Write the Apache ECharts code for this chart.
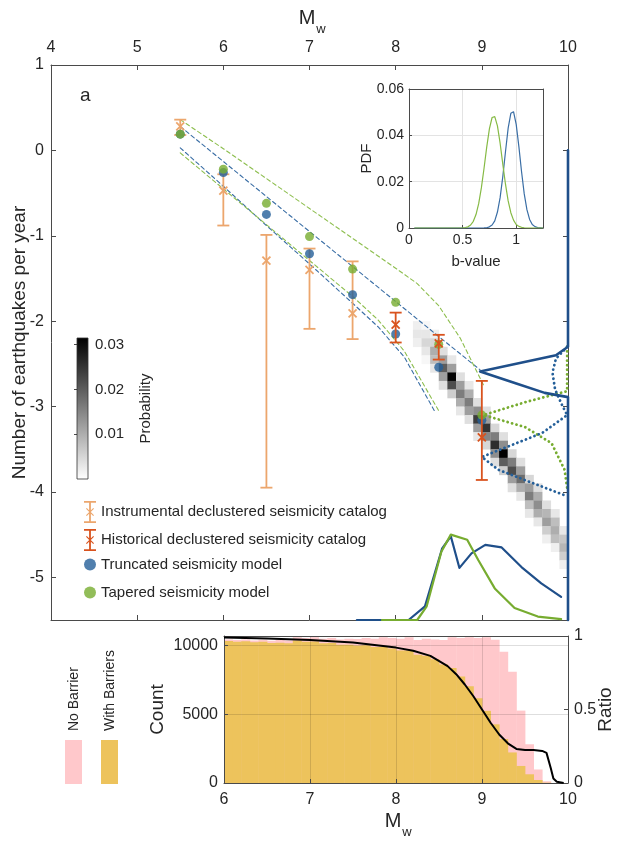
<!DOCTYPE html>
<html><head><meta charset="utf-8">
<script src="https://cdn.jsdelivr.net/npm/echarts@6/dist/echarts.min.js"></script>
<style>html,body{margin:0;padding:0;background:#fff}#c{width:617px;height:844px}</style>
</head><body><div id="c"></div>
<script>
// ---------- Panel a data ----------
const yTicks = [-5, -4, -3, -2, -1, 0, 1];
const instrMw   = [5.5, 6.0, 6.5, 7.0, 7.5];
const instrRate = [0.28, -0.47, -1.29, -1.40, -1.91];
const instrHigh = [0.36, -0.28, -0.99, -1.15, -1.30];
const instrLow  = [0.18, -0.88, -3.95, -2.09, -2.21];
const histMw   = [8.0, 8.5, 9.0];
const histRate = [-2.04, -2.26, -3.36];
const histHigh = [-1.90, -2.16, -2.70];
const histLow  = [-2.25, -2.45, -3.86];
const modelMw   = [5.5, 6.0, 6.5, 7.0, 7.5, 8.0, 8.5, 9.0];
const truncRate = [0.19, -0.26, -0.75, -1.21, -1.69, -2.15, -2.54, -3.16];
const taperRate = [0.19, -0.22, -0.62, -1.01, -1.39, -1.78, -2.27, -3.10];
const truncUpper = [[5.5,0.28],[6.0,-0.13],[6.5,-0.54],[7.0,-0.95],[7.5,-1.36],[8.0,-1.77],[8.5,-2.18],[8.98,-2.57]];
const truncLower = [[5.5,0.03],[6.0,-0.42],[6.5,-0.88],[7.0,-1.33],[7.5,-1.79],[7.8,-2.07],[8.1,-2.42],[8.45,-3.05]];
const taperUpper = [[5.5,0.36],[6.0,0.02],[6.5,-0.33],[7.0,-0.68],[7.5,-1.03],[8.0,-1.38],[8.25,-1.56],[8.5,-1.82],[8.75,-2.2],[9.03,-2.77]];
const taperLower = [[5.5,-0.03],[6.0,-0.45],[6.5,-0.87],[7.0,-1.29],[7.5,-1.71],[7.8,-1.99],[8.1,-2.35],[8.5,-3.05]];
// sideways PDFs at right edge
const truncRatePdf = [[10,0],[10,-2.3],[9.86,-2.4],[8.98,-2.59],[9.4,-2.73],[9.73,-2.84],[10,-2.89],[10,-5.5]];
const truncRatePdf2 = [[9.99,-2.3],[9.86,-2.44],[9.82,-2.6],[9.85,-2.8],[9.93,-2.98],[9.99,-3.1],[9.7,-3.31],[9.0,-3.59],[9.19,-3.74],[9.6,-3.9],[9.99,-4.05]];
const taperRatePdf = [[9.99,-2.3],[9.99,-2.82],[9.5,-2.95],[9.02,-3.1],[9.5,-3.24],[9.81,-3.43],[9.96,-3.74],[9.99,-3.95]];
// PDFs of max magnitude along the bottom
const truncMmaxPdf = [[7.55,-5.5],[8.15,-5.5],[8.34,-5.34],[8.54,-4.66],[8.64,-4.52],[8.74,-4.89],[8.88,-4.72],[9.04,-4.62],[9.23,-4.65],[9.46,-4.88],[9.69,-5.07],[9.92,-5.23]];
const taperMmaxPdf = [[7.84,-5.5],[8.25,-5.5],[8.36,-5.34],[8.53,-4.7],[8.64,-4.5],[8.83,-4.56],[8.96,-4.8],[9.15,-5.13],[9.38,-5.36],[9.65,-5.46],[9.92,-5.49]];
// probability heat cells: column Mw (bin start), top value of first cell, probabilities downward
const heatBin = 0.1;
const heatColMw  = [8.2, 8.3, 8.4, 8.5, 8.6, 8.7, 8.8, 8.9, 9.0, 9.1, 9.2, 9.3, 9.4, 9.5, 9.6, 9.7, 9.8, 9.9];
const heatColTop = [-2.0, -2.0, -2.1, -2.3, -2.4, -2.6, -2.7, -2.9, -3.0, -3.2, -3.3, -3.5, -3.6, -3.8, -3.9, -4.1, -4.2, -4.4];
const heatColProb = [
  [0.002, 0.003, 0.002],
  [0.001, 0.003, 0.005, 0.003, 0.001],
  [0.002, 0.005, 0.010, 0.008, 0.003],
  [0.004, 0.012, 0.020, 0.012, 0.004],
  [0.003, 0.012, 0.031, 0.022, 0.006],
  [0.004, 0.012, 0.016, 0.010, 0.003],
  [0.003, 0.010, 0.016, 0.012, 0.004],
  [0.004, 0.014, 0.024, 0.012, 0.003],
  [0.004, 0.012, 0.025, 0.015, 0.005],
  [0.005, 0.016, 0.026, 0.014, 0.004],
  [0.004, 0.014, 0.032, 0.020, 0.006],
  [0.005, 0.016, 0.022, 0.012, 0.004],
  [0.004, 0.012, 0.018, 0.010, 0.003],
  [0.005, 0.012, 0.016, 0.008, 0.003],
  [0.004, 0.010, 0.014, 0.010, 0.003],
  [0.004, 0.009, 0.012, 0.006, 0.002],
  [0.003, 0.008, 0.010, 0.008, 0.002],
  [0.003, 0.007, 0.009, 0.006, 0.002]
];
const probMax = 0.0315;
const colorbarTicks = [0.01, 0.02, 0.03];
// inset b-value PDFs
const bTicks = [0, 0.5, 1];
const bValue = [0.05,0.5,0.525,0.55,0.575,0.6,0.625,0.65,0.675,0.7,0.725,0.75,0.775,0.8,0.825,0.85,0.875,0.9,0.925,0.95,0.975,1.0,1.025,1.05,1.075,1.1,1.125,1.15,1.175,1.2,1.225,1.25];
const taperBPdf = [0,0.0001,0.0002,0.0005,0.0013,0.0029,0.0058,0.0105,0.0173,0.0258,0.0349,0.0428,0.0477,0.0481,0.0441,0.0366,0.0276,0.0189,0.0117,0.0066,0.0034,0.0015,0.0007,0.0003,0.0001,0,0,0,0,0,0,0];
const truncBPdf = [0,0,0,0,0,0,0,0,0,0.00004,0.0001,0.0005,0.0013,0.0031,0.0069,0.0131,0.0222,0.0329,0.0431,0.0495,0.0502,0.0447,0.0351,0.0243,0.0147,0.0079,0.0037,0.0015,0.0006,0.0002,0.0001,0];
// ---------- Panel b data ----------
const binWidth = 0.1;
const binStart = [6.0,6.1,6.2,6.3,6.4,6.5,6.6,6.7,6.8,6.9,7.0,7.1,7.2,7.3,7.4,7.5,7.6,7.7,7.8,7.9,8.0,8.1,8.2,8.3,8.4,8.5,8.6,8.7,8.8,8.9,9.0,9.1,9.2,9.3,9.4,9.5,9.6,9.7,9.8,9.9];
const noBarrierCount = [10450,10400,10450,10380,10420,10350,10400,10380,10600,10550,10600,10500,10550,10450,10500,10480,10550,10500,10600,10550,10500,10600,10400,10500,10450,10400,10600,10550,10600,10550,10600,10420,9560,8090,5270,2820,985,125,0,0];
const withBarrierCount = [10345,10290,10325,10245,10275,10185,10210,10170,10365,10285,10300,10175,10190,10065,10070,10010,10020,9900,9920,9790,9650,9650,9340,9260,9010,8630,8370,7750,7050,6170,5250,4270,3200,2225,1240,635,220,25,0,0];
const ratioMw  = [6.0,6.5,7.0,7.5,7.8,8.0,8.2,8.4,8.6,8.7,8.8,8.9,9.0,9.1,9.2,9.3,9.4,9.5,9.6,9.7,9.75,9.8,9.83,9.87,9.95];
const ratioVal = [0.99,0.983,0.972,0.955,0.935,0.921,0.9,0.865,0.795,0.74,0.67,0.59,0.5,0.41,0.33,0.27,0.232,0.225,0.225,0.218,0.205,0.1,0.03,0.008,0];
const countTicks = [0, 5000, 10000];

// ---------- styling ----------
const FONT = 'Liberation Sans, Arial, Helvetica, sans-serif';
const TXT = '#262626';
const AX = '#4a4a4a';
const C_INSTR = '#ECA66D', C_HIST = '#D9531E', C_BLUE = '#245F99', C_GREEN = '#77AC30';
const C_BLUE_D = '#1F4F8A', C_BLUE_DASH = '#3A6EA5', C_GREEN_DASH = '#8DBE4E';
const C_PINK = '#FFC8CB', C_GOLD = '#EDC35C';

const zip = (a, b) => a.map((v, i) => [v, b[i]]);
const heatData = [];
heatColMw.forEach((m, i) => heatColProb[i].forEach((p, j) => heatData.push([m, heatColTop[i] - heatBin * j, p])));
const errData = (mw, lo, hi, val) => mw.map((m, i) => [m, lo[i], hi[i], val[i]]);

function errRender(color) {
  return function (params, api) {
    const x = api.value(0);
    const lo = api.coord([x, api.value(1)]), hi = api.coord([x, api.value(2)]), c = api.coord([x, api.value(3)]);
    const st = { stroke: color, lineWidth: 1.8 };
    const cap = 6, xs = 4;
    return { type: 'group', children: [
      { type: 'line', shape: { x1: hi[0], y1: hi[1], x2: lo[0], y2: lo[1] }, style: st },
      { type: 'line', shape: { x1: hi[0] - cap, y1: hi[1], x2: hi[0] + cap, y2: hi[1] }, style: st },
      { type: 'line', shape: { x1: lo[0] - cap, y1: lo[1], x2: lo[0] + cap, y2: lo[1] }, style: st },
      { type: 'line', shape: { x1: c[0] - xs, y1: c[1] - xs, x2: c[0] + xs, y2: c[1] + xs }, style: st },
      { type: 'line', shape: { x1: c[0] - xs, y1: c[1] + xs, x2: c[0] + xs, y2: c[1] - xs }, style: st }
    ]};
  };
}
const ERR_ICON = 'path://M0,0H12V1.8H6.9V20.2H12V22H0V20.2H5.1V1.8H0Z M2,7.8L2.8,7L10,14.2L9.2,15Z M9.2,7L10,7.8L2.8,15L2,14.2Z';

const lineS = (name, data, color, width, type, z, clip) => ({
  name, type: 'line', xAxisIndex: 0, yAxisIndex: 0, data, showSymbol: false, symbol: 'none', z,
  clip: clip !== false, silent: true,
  lineStyle: { color, width, type, cap: 'round', join: 'round' }
});

const axisLineStyle = { show: true, onZero: false, lineStyle: { color: AX, width: 1 } };
const lbl = (size) => ({ color: TXT, fontSize: size, fontFamily: FONT });
const plain = (v) => String(v);

const legendItems = [
  { name: 'Instrumental declustered seismicity catalog', icon: ERR_ICON, itemStyle: { color: C_INSTR } },
  { name: 'Historical declustered seismicity catalog', icon: ERR_ICON, itemStyle: { color: C_HIST } },
  { name: 'Truncated seismicity model', icon: 'circle', itemStyle: { color: C_BLUE } },
  { name: 'Tapered seismicity model', icon: 'circle', itemStyle: { color: C_GREEN } }
];
const legendTops = [496, 524, 552, 580];

const option = {
  animation: false,
  textStyle: { fontFamily: FONT },
  grid: [
    { left: 51, top: 65, width: 517, height: 555, outerBoundsMode: 'none', containLabel: false },
    { left: 224, top: 636, width: 344, height: 147, outerBoundsMode: 'none', containLabel: false },
    { left: 409, top: 89, width: 134, height: 139, outerBoundsMode: 'none', containLabel: false },
    { left: 77, top: 338, width: 11, height: 141, outerBoundsMode: 'none', containLabel: false }
  ],
  xAxis: [
    { gridIndex: 0, type: 'value', position: 'top', min: 4, max: 10, interval: 1,
      axisLine: axisLineStyle, axisTick: { inside: true, length: 5, lineStyle: { color: AX } },
      axisLabel: Object.assign(lbl(16), { margin: 9 }), splitLine: { show: false } },
    { gridIndex: 0, type: 'value', position: 'bottom', min: 4, max: 10, interval: 1,
      axisLine: axisLineStyle, axisTick: { inside: true, length: 5, lineStyle: { color: AX } },
      axisLabel: { show: false }, splitLine: { show: false } },
    { gridIndex: 1, type: 'value', position: 'bottom', min: 6, max: 10, interval: 1, z: 5,
      axisLine: axisLineStyle, axisTick: { inside: true, length: 4, lineStyle: { color: AX } },
      axisLabel: Object.assign(lbl(16), { margin: 9 }),
      splitLine: { show: true, lineStyle: { color: 'rgba(0,0,0,0.13)', width: 1 } } },
    { gridIndex: 1, type: 'value', position: 'top', min: 6, max: 10, z: 5,
      axisLine: axisLineStyle, axisTick: { show: false }, axisLabel: { show: false }, splitLine: { show: false } },
    { gridIndex: 2, type: 'value', position: 'bottom', min: 0, max: 1.25,
      axisLine: axisLineStyle, axisTick: { inside: true, length: 3, customValues: bTicks, lineStyle: { color: AX } },
      axisLabel: Object.assign(lbl(14), { margin: 5, customValues: bTicks }),
      splitLine: { show: true, lineStyle: { color: '#e3e3e3', width: 1 } },
      name: 'b-value', nameLocation: 'middle', nameGap: 26, nameMoveOverlap: false, nameTextStyle: lbl(15) },
    { gridIndex: 2, type: 'value', position: 'top', min: 0, max: 1.25,
      axisLine: axisLineStyle, axisTick: { show: false }, axisLabel: { show: false }, splitLine: { show: false } },
    { gridIndex: 3, type: 'value', min: 0, max: 1, show: false }
  ],
  yAxis: [
    { gridIndex: 0, type: 'value', position: 'left', min: -5.5, max: 1,
      axisLine: axisLineStyle,
      axisTick: { inside: true, length: 5, customValues: yTicks, lineStyle: { color: AX } },
      axisLabel: Object.assign(lbl(16), { customValues: yTicks, margin: 7 }), splitLine: { show: false },
      name: 'Number of earthquakes per year', nameLocation: 'middle', nameRotate: 90, nameGap: 22,
      nameMoveOverlap: false, nameTextStyle: lbl(19) },
    { gridIndex: 0, type: 'value', position: 'right', min: -5.5, max: 1,
      axisLine: axisLineStyle,
      axisTick: { inside: true, length: 5, customValues: yTicks, lineStyle: { color: AX } },
      axisLabel: { show: false }, splitLine: { show: false } },
    { gridIndex: 1, type: 'value', position: 'left', min: 0, max: 10700, z: 5,
      axisLine: axisLineStyle,
      axisTick: { inside: true, length: 4, customValues: countTicks, lineStyle: { color: AX } },
      axisLabel: Object.assign(lbl(16), { customValues: countTicks, margin: 6, formatter: plain }),
      splitLine: { show: true, lineStyle: { color: 'rgba(0,0,0,0.13)', width: 1 } },
      name: 'Count', nameLocation: 'middle', nameRotate: 90, nameGap: 57, nameMoveOverlap: false, nameTextStyle: lbl(19) },
    { gridIndex: 1, type: 'value', position: 'right', min: 0, max: 1, interval: 0.5, z: 5,
      axisLine: axisLineStyle, axisTick: { inside: true, length: 4, lineStyle: { color: AX } },
      axisLabel: Object.assign(lbl(16), { margin: 6, formatter: plain }), splitLine: { show: false },
      name: 'Ratio', nameLocation: 'middle', nameRotate: 90, nameGap: 28, nameMoveOverlap: false, nameTextStyle: lbl(19) },
    { gridIndex: 2, type: 'value', position: 'left', min: 0, max: 0.06, interval: 0.02,
      axisLine: axisLineStyle, axisTick: { inside: true, length: 3, lineStyle: { color: AX } },
      axisLabel: Object.assign(lbl(14), { margin: 5, formatter: plain }),
      splitLine: { show: true, lineStyle: { color: '#e3e3e3', width: 1 } },
      name: 'PDF', nameLocation: 'middle', nameRotate: 90, nameGap: 35, nameMoveOverlap: false, nameTextStyle: lbl(15) },
    { gridIndex: 2, type: 'value', position: 'right', min: 0, max: 0.06,
      axisLine: axisLineStyle, axisTick: { show: false }, axisLabel: { show: false }, splitLine: { show: false } },
    { gridIndex: 3, type: 'value', position: 'right', min: 0, max: probMax,
      axisLine: { show: false },
      axisTick: { inside: true, length: 3, customValues: colorbarTicks, lineStyle: { color: AX } },
      axisLabel: Object.assign(lbl(15), { customValues: colorbarTicks, margin: 7, formatter: plain }), splitLine: { show: false },
      name: 'Probability', nameLocation: 'middle', nameRotate: 90, nameGap: 50, nameMoveOverlap: false, nameTextStyle: lbl(15) }
  ],
  visualMap: [{ type: 'continuous', show: false, seriesIndex: 0, dimension: 2, min: 0, max: probMax,
    inRange: { color: ['#ffffff', '#000000'] } }],
  legend: legendItems.map((it, i) => ({
    orient: 'vertical', left: 79, top: legendTops[i], itemWidth: 12, itemHeight: 23, itemTextGap: 26,
    textStyle: { color: TXT, fontSize: 15, fontFamily: FONT }, selectedMode: false, data: [it]
  })),
  graphic: [
    { type: 'text', left: 80, top: 86, style: { text: 'a', fontSize: 19, fill: TXT, fontFamily: FONT } },
    { type: 'text', left: 240, top: 645, style: { text: 'b', fontSize: 19, fill: TXT, fontFamily: FONT } },
    { type: 'text', x: 307, y: 18, style: { text: 'M', fontSize: 20, fill: TXT, fontFamily: FONT, align: 'center', verticalAlign: 'middle' } },
    { type: 'text', x: 321, y: 29, style: { text: 'w', fontSize: 13, fill: TXT, fontFamily: FONT, align: 'center', verticalAlign: 'middle' } },
    { type: 'text', x: 393, y: 821, style: { text: 'M', fontSize: 20, fill: TXT, fontFamily: FONT, align: 'center', verticalAlign: 'middle' } },
    { type: 'text', x: 407, y: 832, style: { text: 'w', fontSize: 13, fill: TXT, fontFamily: FONT, align: 'center', verticalAlign: 'middle' } },
    { type: 'rect', shape: { x: 65, y: 740, width: 17, height: 44 }, style: { fill: C_PINK } },
    { type: 'rect', shape: { x: 101, y: 740, width: 17, height: 44 }, style: { fill: C_GOLD } },
    { type: 'text', x: 74, y: 731, rotation: Math.PI / 2,
      style: { text: 'No Barrier', fontSize: 14, fill: TXT, fontFamily: FONT, align: 'left', verticalAlign: 'middle' } },
    { type: 'text', x: 110, y: 731, rotation: Math.PI / 2,
      style: { text: 'With Barriers', fontSize: 14, fill: TXT, fontFamily: FONT, align: 'left', verticalAlign: 'middle' } }
  ],
  series: [
    { name: 'heat', type: 'custom', xAxisIndex: 0, yAxisIndex: 0, data: heatData, z: 1, silent: true,
      encode: { x: 0, y: 1 },
      renderItem: function (params, api) {
        const m = api.value(0), t = api.value(1);
        const a = api.coord([m, t]), b = api.coord([m + heatBin, t - heatBin]);
        return { type: 'rect', shape: { x: a[0], y: a[1], width: b[0] - a[0] + 0.3, height: b[1] - a[1] + 0.3 },
          style: { fill: api.visual('color') } };
      } },
    lineS('truncUpper', truncUpper, C_BLUE_DASH, 1.1, [4, 3], 2),
    lineS('truncLower', truncLower, C_BLUE_DASH, 1.1, [4, 3], 2),
    lineS('taperUpper', taperUpper, C_GREEN_DASH, 1.1, [4, 3], 2),
    lineS('taperLower', taperLower, C_GREEN_DASH, 1.1, [4, 3], 2),
    lineS('taperRatePdf', taperRatePdf, C_GREEN, 2.8, [0.1, 4.5], 3, false),
    lineS('truncRatePdf2', truncRatePdf2, C_BLUE, 2.8, [0.1, 4.5], 3, false),
    lineS('truncRatePdf', truncRatePdf, C_BLUE_D, 2.6, 'solid', 3, false),
    lineS('truncMmaxPdf', truncMmaxPdf, C_BLUE_D, 2.2, 'solid', 3, false),
    lineS('taperMmaxPdf', taperMmaxPdf, C_GREEN, 2.2, 'solid', 3, false),
    { name: 'Instrumental declustered seismicity catalog', type: 'custom', xAxisIndex: 0, yAxisIndex: 0, z: 4,
      itemStyle: { color: C_INSTR }, encode: { x: 0, y: [1, 2] },
      data: errData(instrMw, instrLow, instrHigh, instrRate), renderItem: errRender(C_INSTR) },
    { name: 'Truncated seismicity model', type: 'scatter', xAxisIndex: 0, yAxisIndex: 0, z: 5,
      symbol: 'circle', symbolSize: 9, itemStyle: { color: C_BLUE }, data: zip(modelMw, truncRate) },
    { name: 'Tapered seismicity model', type: 'scatter', xAxisIndex: 0, yAxisIndex: 0, z: 6,
      symbol: 'circle', symbolSize: 9, itemStyle: { color: C_GREEN }, data: zip(modelMw, taperRate) },
    { name: 'Historical declustered seismicity catalog', type: 'custom', xAxisIndex: 0, yAxisIndex: 0, z: 7,
      itemStyle: { color: C_HIST }, encode: { x: 0, y: [1, 2] },
      data: errData(histMw, histLow, histHigh, histRate), renderItem: errRender(C_HIST) },
    // inset
    { name: 'bTrunc', type: 'line', xAxisIndex: 4, yAxisIndex: 4, data: zip(bValue, truncBPdf), showSymbol: false,
      lineStyle: { color: '#3A6EA5', width: 1.2 }, z: 3 },
    { name: 'bTaper', type: 'line', xAxisIndex: 4, yAxisIndex: 4, data: zip(bValue, taperBPdf), showSymbol: false,
      lineStyle: { color: '#86BA45', width: 1.2 }, z: 3 },
    // colorbar
    { name: 'colorbar', type: 'custom', xAxisIndex: 6, yAxisIndex: 6, data: [[0, 0]], silent: true,
      renderItem: function (params, api) {
        const a = api.coord([0, probMax]), b = api.coord([1, 0]);
        return { type: 'rect', shape: { x: a[0], y: a[1], width: b[0] - a[0], height: b[1] - a[1] },
          style: { fill: { type: 'linear', x: 0, y: 0, x2: 0, y2: 1,
            colorStops: [{ offset: 0, color: '#000000' }, { offset: 1, color: '#ffffff' }] },
            stroke: '#333', lineWidth: 0.8 } };
      } },
    // panel b
    { name: 'No Barrier', type: 'custom', xAxisIndex: 2, yAxisIndex: 2, z: 2, silent: true,
      data: zip(binStart, noBarrierCount), encode: { x: 0, y: 1 },
      renderItem: function (params, api) {
        const m = api.value(0), v = api.value(1);
        const a = api.coord([m, v]), b = api.coord([m + binWidth, 0]);
        return { type: 'rect', shape: { x: a[0], y: a[1], width: b[0] - a[0] + 0.4, height: b[1] - a[1] },
          style: { fill: C_PINK } };
      } },
    { name: 'With Barriers', type: 'custom', xAxisIndex: 2, yAxisIndex: 2, z: 3, silent: true,
      data: zip(binStart, withBarrierCount), encode: { x: 0, y: 1 },
      renderItem: function (params, api) {
        const m = api.value(0), v = api.value(1);
        const a = api.coord([m, v]), b = api.coord([m + binWidth, 0]);
        return { type: 'rect', shape: { x: a[0], y: a[1], width: b[0] - a[0] + 0.4, height: b[1] - a[1] },
          style: { fill: C_GOLD } };
      } },
    { name: 'ratio', type: 'line', xAxisIndex: 2, yAxisIndex: 3, z: 6, data: zip(ratioMw, ratioVal),
      showSymbol: false, lineStyle: { color: '#000', width: 2 } }
  ]
};
const chart = echarts.init(document.getElementById('c'), null, { renderer: 'canvas' });
chart.setOption(option);
</script></body></html>
